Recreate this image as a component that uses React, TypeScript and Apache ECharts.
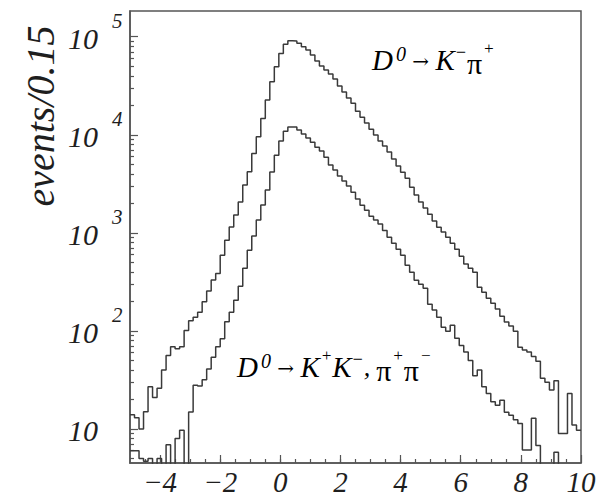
import React, { useEffect, useRef } from "react";
import * as echarts from "echarts";

// Histogram binning (bin width 0.15, from the axis title)
const BIN_START = -5;
const BIN_WIDTH = 0.15;

// D0 -> K- pi+  (events per bin; 100 bins from -5 to 10)
const KPI_COUNTS = [
  14, 13, 10, 15, 27, 21, 26, 40, 56, 69,
  66, 69, 101, 127, 138, 155, 198, 255, 330, 385,
  590, 840, 1150, 1520, 2070, 3070, 4190, 6450, 9550, 14700,
  22600, 34800, 49400, 67600, 83600, 91000, 90500, 85700, 79100, 73100,
  65000, 56500, 50200, 45700, 41600, 37000, 31400, 27300, 23700, 21000,
  17400, 15100, 13200, 11400, 9930, 8630, 7670, 6660, 5650, 4800,
  4160, 3610, 2920, 2430, 2060, 1790, 1550, 1320, 1140, 1020,
  904, 785, 682, 578, 480, 436, 397, 279, 248, 216,
  192, 167, 141, 123, 112, 99, 68, 64, 61, 55,
  49, 33, 30, 25, 31, 9, 9, 23, 11, 9.7,
];

// D0 -> K+K-, pi+pi-  (values of 1 are empty bins, below the axis minimum)
const KK_PIPI_COUNTS = [
  6, 6, 5, 4.7, 5, 1, 5, 1, 6.9, 1,
  8, 9.7, 1, 14.9, 28, 27.5, 31.7, 41, 54, 69,
  83, 124, 155, 206, 286, 436, 665, 927, 1350, 1920,
  2730, 4170, 6200, 8630, 10900, 12000, 12000, 11200, 10200, 9250,
  8400, 7480, 6820, 5920, 4910, 4370, 3790, 3370, 3000, 2600,
  2210, 1910, 1700, 1480, 1350, 1230, 1060, 904, 785, 682,
  592, 468, 397, 329, 300, 273, 187, 163, 138, 109,
  99, 114, 84, 71, 61, 50, 35, 40, 27, 23,
  19, 17.5, 19.6, 14.8, 13.8, 12.4, 11.4, 6.1, 6.1, 12.9,
  6.8, 1, 1, 1, 5.8, 1, 1, 1, 1, 1,
];

const X_MIN = -5;
const X_MAX = 10;
const Y_MIN = 4.5;
const Y_MAX = 183000;

const X_LABEL_TICKS = [-4, -2, 0, 2, 4, 6, 8, 10];
const X_MINOR_TICKS = [
  -4.5, -4, -3.5, -3, -2.5, -2, -1.5, -1, -0.5, 0, 0.5, 1, 1.5, 2, 2.5, 3,
  3.5, 4, 4.5, 5, 5.5, 6, 6.5, 7, 7.5, 8, 8.5, 9, 9.5,
];
const Y_LABEL_TICKS = [10, 100, 1000, 10000, 100000];
const Y_MINOR_TICKS = [
  5, 6, 7, 8, 9,
  20, 30, 40, 50, 60, 70, 80, 90,
  200, 300, 400, 500, 600, 700, 800, 900,
  2000, 3000, 4000, 5000, 6000, 7000, 8000, 9000,
  20000, 30000, 40000, 50000, 60000, 70000, 80000, 90000,
];

const SERIF = "Liberation Serif, DejaVu Serif, serif";
const INK = "#1e1e1e";
const AXIS = "#555555";
const LINE = "#3a3a3a";

function histogramSteps(counts: number[]) {
  const pts: number[][] = counts.map((c, i) => [BIN_START + i * BIN_WIDTH, c]);
  pts.push([BIN_START + counts.length * BIN_WIDTH, counts[counts.length - 1]]);
  return pts;
}

export default function App() {
  const ref = useRef<HTMLDivElement>(null);

  useEffect(() => {
    if (!ref.current) return;
    const chart = echarts.init(ref.current, null, { renderer: "svg" });

    const it = (size: number) => ({
      fontFamily: SERIF,
      fontStyle: "italic",
      fontSize: size,
      lineHeight: size + 2,
      color: INK,
    });
    const sup = (size: number, pb: number, pl = 0) => ({
      fontFamily: SERIF,
      fontStyle: "italic",
      fontSize: size,
      lineHeight: size + 1,
      padding: [0, 0, pb, pl],
      color: INK,
    });
    const annRich = {
      D: it(29),
      K: it(29),
      s0: sup(20, 12, 3),
      sm: sup(18, 16, 0),
      sp: sup(17, 24, 1),
      ar: { fontFamily: "DejaVu Serif, serif", fontSize: 20, lineHeight: 22, color: INK, padding: [2, 0, 0, 0] },
      pi: { fontFamily: SERIF, fontSize: 30, lineHeight: 32, color: INK, padding: [6, 0, 0, 0] },
      c: { ...it(26), padding: [0, 6, 0, 0] },
    };

    chart.setOption({
      animation: false,
      backgroundColor: "#ffffff",
      grid: {
        left: 130,
        top: 11,
        right: 21,
        bottom: 34,
        show: true,
        borderColor: AXIS,
        borderWidth: 1.5,
        containLabel: false,
      },
      xAxis: [
        {
          type: "value",
          min: X_MIN,
          max: X_MAX,
          position: "bottom",
          axisLine: { show: true, onZero: false, lineStyle: { color: AXIS, width: 1.5 } },
          axisTick: {
            show: true,
            inside: true,
            length: 8,
            customValues: X_LABEL_TICKS,
            lineStyle: { color: AXIS, width: 1.2 },
          },
          axisLabel: {
            customValues: X_LABEL_TICKS,
            formatter: (v: number) => (v < 0 ? "\u2212" + -v : String(v)),
            fontFamily: SERIF,
            fontStyle: "italic",
            fontSize: 29,
            color: INK,
            margin: 4,
          },
          splitLine: { show: false },
        },
        {
          type: "value",
          min: X_MIN,
          max: X_MAX,
          position: "bottom",
          axisLine: { show: false, onZero: false },
          axisTick: {
            show: true,
            inside: true,
            length: 4,
            customValues: X_MINOR_TICKS,
            lineStyle: { color: AXIS, width: 1.2 },
          },
          axisLabel: { show: false },
          splitLine: { show: false },
        },
      ],
      yAxis: [
        {
          type: "log",
          logBase: 10,
          min: Y_MIN,
          max: Y_MAX,
          position: "left",
          axisLine: { show: true, onZero: false, lineStyle: { color: AXIS, width: 1.5 } },
          axisTick: {
            show: true,
            inside: true,
            length: 8,
            customValues: Y_LABEL_TICKS,
            lineStyle: { color: AXIS, width: 1.2 },
          },
          axisLabel: {
            customValues: Y_LABEL_TICKS,
            align: "left",
            margin: 62,
            formatter: (v: number) => {
              const n = Math.round(Math.log10(v));
              return n === 1 ? "{b|10}" : "{b|10}{s|" + n + "}";
            },
            rich: {
              b: { ...it(30), lineHeight: 30, padding: [4, 0, 0, 0] },
              s: { ...sup(21, 32, 14), lineHeight: 21 },
            },
          },
          splitLine: { show: false },
        },
        {
          type: "log",
          logBase: 10,
          min: Y_MIN,
          max: Y_MAX,
          position: "left",
          axisLine: { show: false, onZero: false },
          axisTick: {
            show: true,
            inside: true,
            length: 4,
            customValues: Y_MINOR_TICKS,
            lineStyle: { color: AXIS, width: 1.2 },
          },
          axisLabel: { show: false },
          splitLine: { show: false },
        },
      ],
      graphic: [
        {
          type: "text",
          x: 40,
          y: 116,
          rotation: Math.PI / 2,
          style: {
            text: "events/0.15",
            fontFamily: SERIF,
            fontStyle: "italic",
            fontSize: 40,
            fill: INK,
            align: "center",
            verticalAlign: "middle",
          },
        },
        {
          type: "text",
          x: 372,
          y: 60,
          style: {
            text: "{D|D}{s0|0}{ar| \u2192 }{K|K}{sm|\u2212}{pi|\u03c0}{sp|+}",
            rich: annRich,
            align: "left",
            verticalAlign: "middle",
          },
        },
        {
          type: "text",
          x: 237,
          y: 367,
          style: {
            text: "{D|D}{s0|0}{ar| \u2192 }{K|K}{sp|+}{K|K}{sm|\u2212}{c|,}{pi|\u03c0}{sp|+}{pi|\u03c0}{sp|\u2212}",
            rich: annRich,
            align: "left",
            verticalAlign: "middle",
          },
        },
      ],
      series: [
        {
          name: "D0 -> K- pi+",
          type: "line",
          xAxisIndex: 0,
          yAxisIndex: 0,
          step: "end",
          symbol: "none",
          clip: true,
          data: histogramSteps(KPI_COUNTS),
          lineStyle: { color: LINE, width: 1.5 },
        },
        {
          name: "D0 -> K+K-, pi+pi-",
          type: "line",
          xAxisIndex: 0,
          yAxisIndex: 0,
          step: "end",
          symbol: "none",
          clip: true,
          data: histogramSteps(KK_PIPI_COUNTS),
          lineStyle: { color: LINE, width: 1.5 },
        },
      ],
    });

    return () => chart.dispose();
  }, []);

  return (
    <div
      ref={ref}
      style={{ position: "absolute", left: 0, top: 0, width: 602, height: 497, background: "#fff" }}
    />
  );
}
